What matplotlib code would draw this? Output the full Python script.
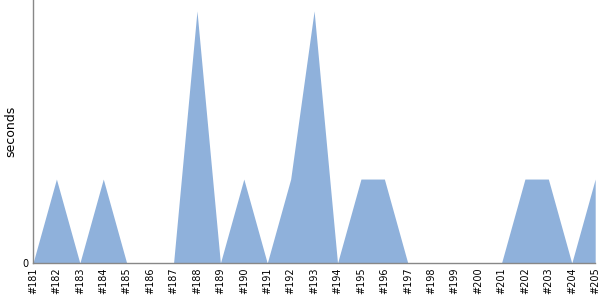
import matplotlib
matplotlib.use("Agg")
import matplotlib.pyplot as plt

labels = ["#181","#182","#183","#184","#185","#186","#187","#188","#189","#190",
          "#191","#192","#193","#194","#195","#196","#197","#198","#199","#200",
          "#201","#202","#203","#204","#205"]
seconds = [0,1,0,1,0,0,0,3,0,1,0,1,3,0,1,1,0,0,0,0,0,1,1,0,1]

fig = plt.figure(figsize=(6, 3), dpi=100)
ax = fig.add_axes([0.055, 0.123, 0.937, 0.877])
x = list(range(len(labels)))
ax.fill_between(x, seconds, 0, color="#8fb1db", linewidth=0)
ax.set_xlim(0, len(labels) - 1)
ax.set_ylim(0, 3.13)
ax.set_xticks(x)
ax.set_xticklabels(labels, rotation=90, fontsize=7)
ax.set_yticks([0])
ax.set_yticklabels(["0"], fontsize=7)
ax.tick_params(length=0, pad=3)
ax.set_ylabel("seconds", fontsize=9)
for s in ["top", "right"]:
    ax.spines[s].set_visible(False)
for s in ["left", "bottom"]:
    ax.spines[s].set_color("#888888")
    ax.spines[s].set_linewidth(1)
fig.savefig("out.png", dpi=100)
